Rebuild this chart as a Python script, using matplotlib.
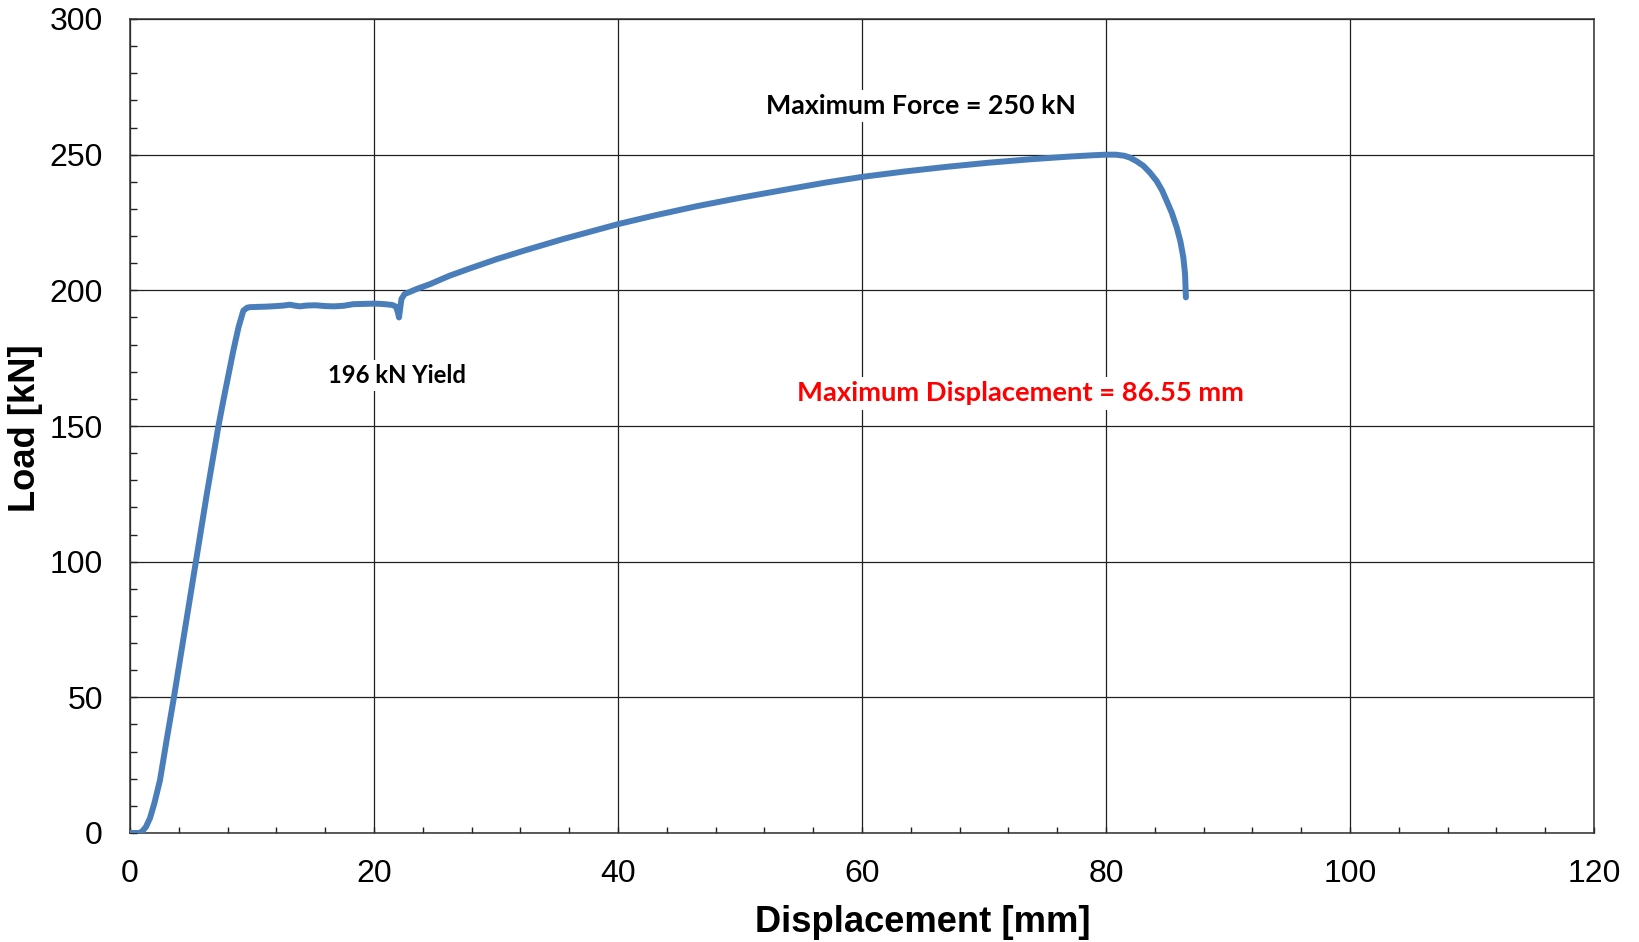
import matplotlib
matplotlib.use("Agg")
import matplotlib.pyplot as plt
from matplotlib.ticker import MultipleLocator

# Data
displacement = [0, 0.76, 1.0, 1.3, 1.64, 2.0, 2.46, 3.0, 3.6, 4.5, 5.4, 6.3, 7.25, 7.65, 8.1, 8.47, 8.9,
                9.29, 9.6, 9.84, 10.5, 11.2, 12.0, 12.6, 13.1, 13.6, 13.9, 14.5, 15.2, 16.0, 16.7, 17.5,
                18.3, 19.2, 20.0, 20.6, 21.1, 21.5, 21.8, 21.95, 22.05, 22.15, 22.25, 22.5, 23.5,
                24.6, 26.2, 28.0, 30.06, 32.5, 35.5, 37.8, 40.0, 43.0, 46.45, 50.0, 54.1, 57.0,
                60.0, 63.5, 66.9, 70.3, 73.8, 77.0, 79.0, 80.0, 80.8, 81.5, 81.97, 82.5, 83.06,
                83.6, 84.15, 84.6, 84.97, 85.4, 85.8, 86.1, 86.34, 86.48, 86.55]
load = [0, 0, 0.6, 2.2, 5.5, 11.0, 19.5, 34.2, 50.0, 75.0, 100.0, 125.0, 150.0, 159.4, 169.5, 177.8, 186.5,
        192.5, 193.6, 193.8, 193.9, 194.0, 194.2, 194.4, 194.7, 194.3, 194.1, 194.4, 194.5, 194.2, 194.1, 194.3,
        194.9, 195.0, 195.1, 195.0, 194.8, 194.6, 194.0, 192.0, 190.0, 193.5, 196.8, 198.6, 200.5,
        202.3, 205.4, 208.3, 211.5, 214.9, 218.9, 221.7, 224.4, 227.6, 231.0, 234.1, 237.4, 239.7,
        241.8, 243.8, 245.5, 247.0, 248.3, 249.3, 249.8, 250.0, 250.0, 249.6, 248.9, 247.6, 245.9,
        243.4, 240.3, 236.8, 233.0, 228.5, 223.1, 218.0, 212.1, 206.0, 197.4]

x_ticks = [0, 20, 40, 60, 80, 100, 120]
y_ticks = [0, 50, 100, 150, 200, 250, 300]

fig = plt.figure(figsize=(16.4, 9.42), dpi=100)
ax = fig.add_axes([130/1640, 109/942, 1464/1640, 814/942])

ax.plot(displacement, load, color='#4a7ebb', lw=4.3, solid_capstyle='round', solid_joinstyle='round', zorder=3)

ax.set_xlim(0, 120)
ax.set_ylim(0, 300)
ax.set_xticks(x_ticks)
ax.set_yticks(y_ticks)
ax.xaxis.set_minor_locator(MultipleLocator(4))
ax.yaxis.set_minor_locator(MultipleLocator(10))
ax.grid(True, which='major', color='#202020', lw=0.9, zorder=1)

tick_font = dict(family=['Liberation Sans', 'DejaVu Sans'], size=23)
ax.set_xticklabels([str(v) for v in x_ticks], fontdict=tick_font)
ax.set_yticklabels([str(v) for v in y_ticks], fontdict=tick_font)
ax.tick_params(axis='both', which='both', direction='in', color='#202020', width=1.0)
ax.tick_params(axis='x', which='both', length=4.5, pad=19)
ax.tick_params(axis='y', which='both', length=5, pad=19.5)
for s in ax.spines.values():
    s.set_color('#303030')
    s.set_linewidth(1.1)

label_font = dict(family=['Liberation Sans', 'DejaVu Sans'], size=26.2, weight='bold')
ax.set_xlabel('Displacement [mm]', fontdict=label_font)
ax.set_ylabel('Load [kN]', fontdict=label_font)
ax.xaxis.set_label_coords(0.5416, -0.089)
ax.yaxis.set_label_coords(-0.0594, 0.497)

ann_font = ['Lato', 'DejaVu Sans']
box = dict(facecolor='white', edgecolor='none', pad=3)
ax.text(64.8, 268, 'Maximum Force = 250 kN', family=ann_font, weight='bold', size=19.3,
        ha='center', va='center', color='black', bbox=box, zorder=4)
ax.text(21.9, 168.6, '196 kN Yield', family=ann_font, weight='bold', size=17.2,
        ha='center', va='center', color='black', bbox=box, zorder=4)
ax.text(73.0, 162.0, 'Maximum Displacement = 86.55 mm', family=ann_font, weight='bold', size=19.7,
        ha='center', va='center', color='#ff0000', bbox=box, zorder=4)

fig.savefig('out.png', dpi=100, facecolor='white')
